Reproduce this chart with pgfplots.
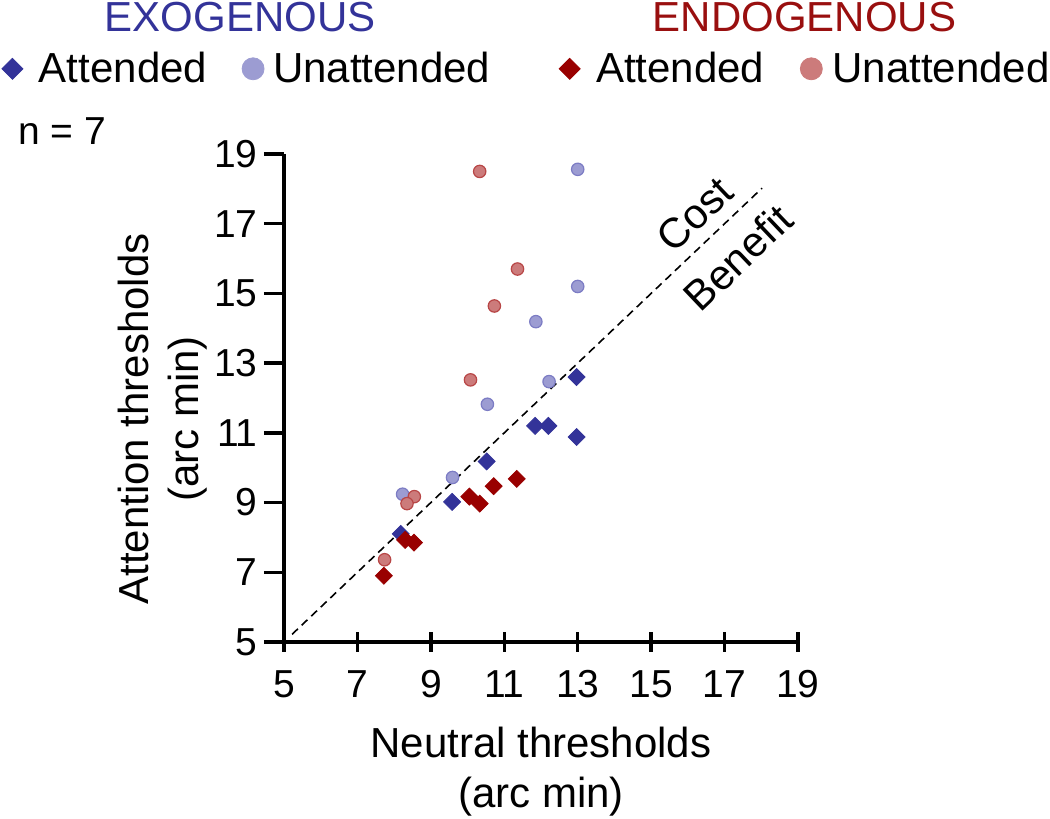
\documentclass[border=0pt]{standalone}
\usepackage{fontspec}
\setmainfont{Liberation Sans}
\usepackage{pgfplots}
\pgfplotsset{compat=1.18}
\definecolor{exoA}{HTML}{333399}
\definecolor{exoU}{HTML}{9C9CD2}
\definecolor{exoUd}{HTML}{7C7CC4}
\definecolor{endoA}{HTML}{990000}
\definecolor{endoU}{HTML}{CC7B7B}
\definecolor{endoUd}{HTML}{B84646}
\definecolor{exoT}{HTML}{333399}
\definecolor{endoT}{HTML}{990F0F}
\begin{document}
\begin{tikzpicture}
\useasboundingbox (0pt,0pt) rectangle (525pt,409.5pt);
\begin{axis}[
  at={(142pt,88.5pt)}, anchor=south west,
  scale only axis, width=257pt, height=244pt,
  xmin=5, xmax=19, ymin=5, ymax=19,
  xtick={5,7,...,19}, ytick={5,7,...,19},
  axis x line*=bottom, axis y line*=left,
  axis line style={line width=1.75pt},
  tick style={line width=1.75pt, black},
  tick align=center, major tick length=10pt,
  y tick style={xshift=-5pt},
  ticklabel style={font=\fontsize{19.5}{20}\selectfont, inner sep=0pt},
  yticklabel style={anchor=east, xshift=-8pt},
  xticklabel style={anchor=north, yshift=-9pt},
  /pgf/number format/assume math mode=true,
  clip=false,
  legend image code/.code={\draw[#1] plot coordinates {(0pt,0pt)};},
  legend columns=4,
  legend style={at={(axis description cs:-0.5486,1.1746)}, anchor=west,
    draw=none, fill=none, inner sep=0pt, outer sep=0pt,
    row sep=0pt, column sep=0pt,
    font=\fontsize{21}{21}\selectfont,
    nodes={inner sep=0pt, outer sep=0pt},
    /tikz/column 1/.style={column sep=8pt},
    /tikz/column 2/.style={column sep=17.5pt},
    /tikz/column 3/.style={column sep=4.5pt},
    /tikz/column 4/.style={column sep=34.5pt},
    /tikz/column 5/.style={column sep=8pt},
    /tikz/column 6/.style={column sep=18pt},
    /tikz/column 7/.style={column sep=5pt}},
]
% dashed identity line
\addplot[black, line width=0.8pt, dash pattern=on 4pt off 2.6pt, forget plot] coordinates {(5.22,5.22) (18.02,18.02)};
% exogenous unattended
\addplot[only marks, mark=*, mark size=3.1pt, mark options={fill=exoU, draw=exoUd, line width=0.6pt}, forget plot] coordinates {
 (13.0,18.56) (13.0,15.2) (11.86,14.19) (12.22,12.47) (10.54,11.82) (9.59,9.72) (8.23,9.24)};
% exogenous attended
\addplot[only marks, mark=square*, mark size=3pt, mark options={rotate=45, fill=exoA, draw=exoA}, forget plot] coordinates {
 (12.97,12.6) (11.84,11.2) (12.2,11.2) (12.97,10.88) (10.52,10.18) (9.58,9.02) (8.18,8.1)};
% endogenous unattended
\addplot[only marks, mark=*, mark size=3.1pt, mark options={fill=endoU, draw=endoUd, line width=0.6pt}, forget plot] coordinates {
 (10.33,18.5) (11.36,15.7) (10.73,14.64) (10.08,12.52) (8.55,9.17) (8.35,8.97) (7.74,7.36)};
% endogenous attended
\addplot[only marks, mark=square*, mark size=3pt, mark options={rotate=45, fill=endoA, draw=endoA}, forget plot] coordinates {
 (11.34,9.68) (10.71,9.47) (10.05,9.17) (10.33,8.97) (8.3,7.93) (8.54,7.85) (7.72,6.9)};
% legend
\addlegendimage{only marks, mark=square*, mark size=3.7pt, mark options={rotate=45, fill=exoA, draw=exoA}}
\addlegendentry{Attended}
\addlegendimage{only marks, mark=*, mark size=5.5pt, mark options={fill=exoU, draw=exoU}}
\addlegendentry{Unattended}
\addlegendimage{only marks, mark=square*, mark size=3.7pt, mark options={rotate=45, fill=endoA, draw=endoA}}
\addlegendentry{Attended}
\addlegendimage{only marks, mark=*, mark size=5.5pt, mark options={fill=endoU, draw=endoU}}
\addlegendentry{Unattended}
\node[rotate=43.6, font=\fontsize{21}{21}\selectfont] at (axis cs:16.18,17.26) {Cost};
\node[rotate=43.6, font=\fontsize{21}{21}\selectfont] at (axis cs:17.36,16.03) {Benefit};
\end{axis}
\node[anchor=base, inner sep=0pt, text=exoT, font=\fontsize{21}{21}\selectfont] at (120pt,393.5pt) {EXOGENOUS};
\node[anchor=base, inner sep=0pt, text=endoT, font=\fontsize{21}{21}\selectfont] at (402.25pt,393.5pt) {ENDOGENOUS};
\node[anchor=base west, inner sep=0pt, font=\fontsize{19.5}{20}\selectfont] at (9pt,337pt) {n = 7};
\node[rotate=90, anchor=base, inner sep=0pt, font=\fontsize{21}{21}\selectfont] at (74pt,200pt) {Attention thresholds};
\node[rotate=90, anchor=base, inner sep=0pt, font=\fontsize{21}{21}\selectfont] at (99pt,200pt) {(arc min)};
\node[anchor=base, inner sep=0pt, font=\fontsize{21}{21}\selectfont] at (270.5pt,30.5pt) {Neutral thresholds};
\node[anchor=base, inner sep=0pt, font=\fontsize{21}{21}\selectfont] at (270.5pt,5.5pt) {(arc min)};
\end{tikzpicture}
\end{document}
